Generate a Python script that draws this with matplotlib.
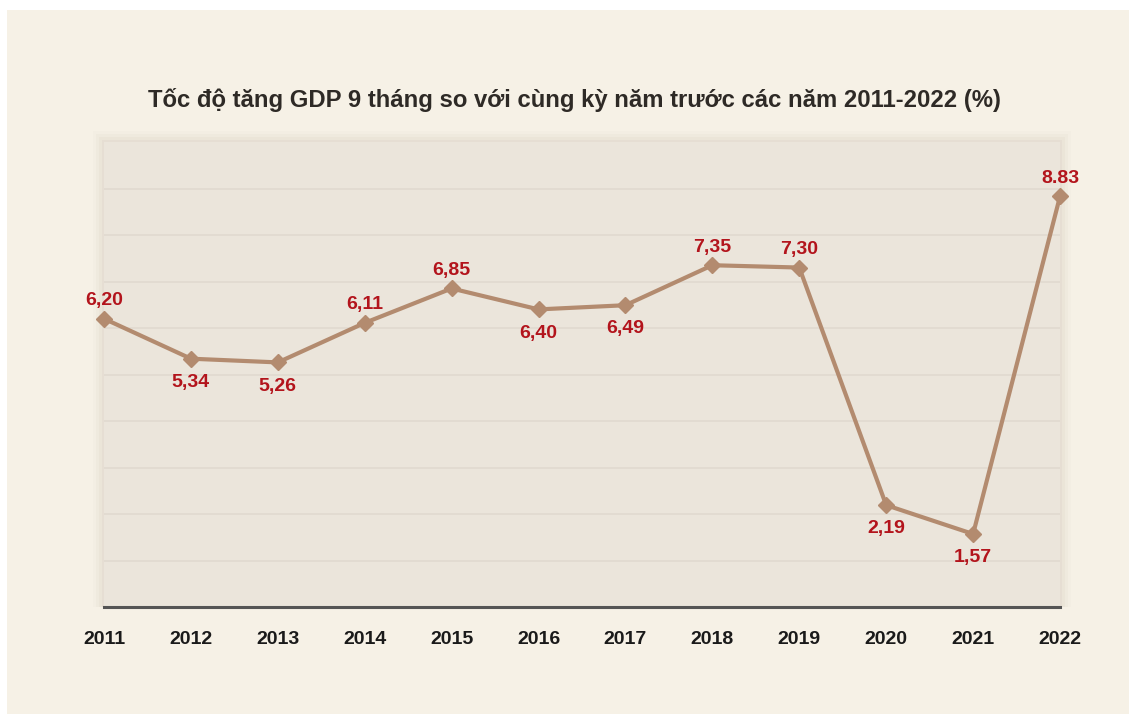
import matplotlib.pyplot as plt
from matplotlib.patches import Rectangle

years = [2011, 2012, 2013, 2014, 2015, 2016, 2017, 2018, 2019, 2020, 2021, 2022]
growth = [6.20, 5.34, 5.26, 6.11, 6.85, 6.40, 6.49, 7.35, 7.30, 2.19, 1.57, 8.83]
labels = ["6,20", "5,34", "5,26", "6,11", "6,85", "6,40", "6,49", "7,35", "7,30", "2,19", "1,57", "8.83"]
above = [True, False, False, True, True, False, False, True, True, False, False, True]

title = "Tốc độ tăng GDP 9 tháng so với cùng kỳ năm trước các năm 2011-2022 (%)"

plt.rcParams['font.family'] = ['Liberation Sans', 'DejaVu Sans']

W, H = 1129, 716
fig = plt.figure(figsize=(W / 100, H / 100), dpi=100)
fig.patch.set_facecolor('white')

# cream card behind everything
fig.patches.append(Rectangle((7 / W, 2 / H), 1 - 7 / W, 1 - 12 / H, transform=fig.transFigure,
                             facecolor='#f6f1e6', edgecolor='none', zorder=-2))

ax_l, ax_r, ax_b, ax_t = 104, 1060, 607, 142
# soft shadow around the plot panel
for i, a in enumerate([0.05, 0.04, 0.03, 0.02]):
    pad = 2 + i * 3
    fig.patches.append(Rectangle(((ax_l - pad) / W, (H - ax_b) / H),
                                 (ax_r - ax_l + 2 * pad) / W, (ax_b - ax_t + pad) / H,
                                 transform=fig.transFigure, facecolor='#8a7a60',
                                 alpha=a, edgecolor='none', zorder=-1))

ax = fig.add_axes([ax_l / W, (H - ax_b) / H, (ax_r - ax_l) / W, (ax_b - ax_t) / H])
ax.set_zorder(2)
ax.set_facecolor('#ebe5db')
ax.set_xlim(2011, 2022)
ax.set_ylim(0, 10)

for y in range(1, 10):
    ax.axhline(y, color='#e2dbd0', lw=1.3, zorder=1)

ax.plot(years, growth, color='#b38b6f', lw=3, marker='D', markersize=8,
        markerfacecolor='#b38b6f', markeredgecolor='#b38b6f', zorder=3, clip_on=False)

for x, v, s, up in zip(years, growth, labels, above):
    ax.annotate(s, (x, v), xytext=(0, 7 if up else -11), textcoords='offset points',
                ha='center', va='bottom' if up else 'top', color='#b3141c',
                fontsize=14, fontweight='bold', zorder=4)

for side in ['top', 'left', 'right']:
    ax.spines[side].set_visible(False)
ax.spines['bottom'].set_color('#555555')
ax.spines['bottom'].set_linewidth(2.2)
ax.set_yticks([])
ax.set_xticks(years)
ax.set_xticklabels([str(y) for y in years], fontsize=14, fontweight='bold', color='#1a1a1a')
ax.tick_params(axis='x', length=0, pad=17)

fig.text(575 / W, 1 - 100 / H, title, ha='center', va='center', fontsize=17.2,
         fontweight='bold', color='#2e2a26')

fig.savefig('out.png', dpi=100, facecolor=fig.get_facecolor())
